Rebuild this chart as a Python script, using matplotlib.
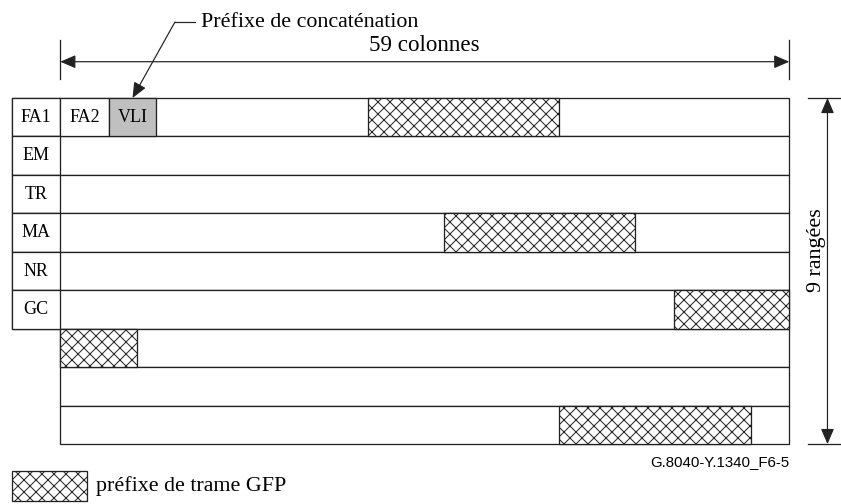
import matplotlib
matplotlib.use('Agg')
import matplotlib.pyplot as plt

plt.rcParams['font.family'] = ['Liberation Serif', 'DejaVu Serif']
plt.rcParams['hatch.linewidth'] = 1.0

# frame layout (in columns / rows)
n_cols = 59
n_rows = 9
row_labels = ['FA1', 'EM', 'TR', 'MA', 'NR', 'GC']
label_w = 3.885
fa2_w = 3.92
vli_w = 3.85

# GFP frame prefix blocks: row, start column, length
gfp_rows = [0, 3, 5, 6, 8]
gfp_start = [24.9, 31.05, 49.7, 0.0, 40.4]
gfp_len = [15.5, 15.5, 9.3, 6.2, 15.5]

line_c = '#222222'
lw = 1.3

fig = plt.figure(figsize=(841 / 72, 504 / 72), dpi=72)
ax = fig.add_axes([0, 0, 1, 1])
ax.set_xlim(-4.880, 63.185)
ax.set_ylim(10.559, -2.549)
ax.axis('off')

# rows
for r in range(n_rows):
  if r < len(row_labels):
    ax.barh(r, n_cols + label_w, left=-label_w, height=1, align='edge',
            facecolor='white', edgecolor=line_c, linewidth=lw)
    ax.barh(r, label_w, left=-label_w, height=1, align='edge',
            facecolor='white', edgecolor=line_c, linewidth=lw)
    ax.text(-label_w / 2, r + 0.5, row_labels[r], ha='center', va='center', fontsize=18)
  else:
    ax.barh(r, n_cols, left=0, height=1, align='edge',
            facecolor='white', edgecolor=line_c, linewidth=lw)

# FA2 and VLI
ax.barh(0, fa2_w, left=0, height=1, align='edge', facecolor='white', edgecolor=line_c, linewidth=lw)
ax.text(fa2_w / 2, 0.5, 'FA2', ha='center', va='center', fontsize=18)
ax.barh(0, vli_w, left=fa2_w, height=1, align='edge', facecolor='#c0c0c0', edgecolor=line_c, linewidth=lw)
ax.text(fa2_w + vli_w / 2, 0.5, 'VLI', ha='center', va='center', fontsize=18)

# GFP prefix blocks
for r, s, w in zip(gfp_rows, gfp_start, gfp_len):
  ax.barh(r, w, left=s, height=1, align='edge', facecolor='white',
          edgecolor=line_c, linewidth=lw, hatch='xx')

arrow = dict(arrowstyle='<|-|>,head_length=0.65,head_width=0.28', mutation_scale=20,
             shrinkA=0, shrinkB=0, lw=1.2, color=line_c)

# 59 columns dimension
ax.annotate('', xy=(0, -0.944), xytext=(n_cols, -0.944), arrowprops=arrow)
ax.plot([0, 0], [-1.508, -0.494], color=line_c, lw=lw)
ax.plot([n_cols, n_cols], [-1.508, -0.494], color=line_c, lw=lw)
ax.text(n_cols / 2, -1.23, '59 colonnes', ha='center', va='baseline', fontsize=23)

# 9 rows dimension
ax.annotate('', xy=(62.09, 0), xytext=(62.09, n_rows), arrowprops=arrow)
ax.plot([60.51, 63.185], [0, 0], color=line_c, lw=lw)
ax.plot([60.51, 63.185], [n_rows, n_rows], color=line_c, lw=lw)
ax.text(61.24, 3.95, '9 rangées', ha='center', va='center', rotation=90, fontsize=22)

# concatenation prefix leader
ax.text(11.39, -1.85, 'Préfixe de concaténation', ha='left', va='baseline', fontsize=22)
ax.plot([10.9, 9.28], [-1.977, -1.977], color=line_c, lw=1.2)
ax.annotate('', xy=(fa2_w + vli_w / 2, 0), xytext=(9.28, -1.977),
            arrowprops=dict(arrowstyle='-|>,head_length=0.65,head_width=0.28', mutation_scale=20,
                            shrinkA=0, shrinkB=0, lw=1.2, color=line_c))

ax.text(n_cols, 9.56, 'G.8040-Y.1340_F6-5', ha='right', va='baseline',
        fontsize=15, family=['Liberation Sans', 'DejaVu Sans'])

# legend
ax.barh(9.69, 6.075, left=-label_w, height=0.79, align='edge', facecolor='white',
        edgecolor=line_c, linewidth=lw, hatch='xx')
ax.text(2.89, 10.09, 'préfixe de trame GFP', ha='left', va='center', fontsize=22)

fig.savefig('out.png', dpi=72)
